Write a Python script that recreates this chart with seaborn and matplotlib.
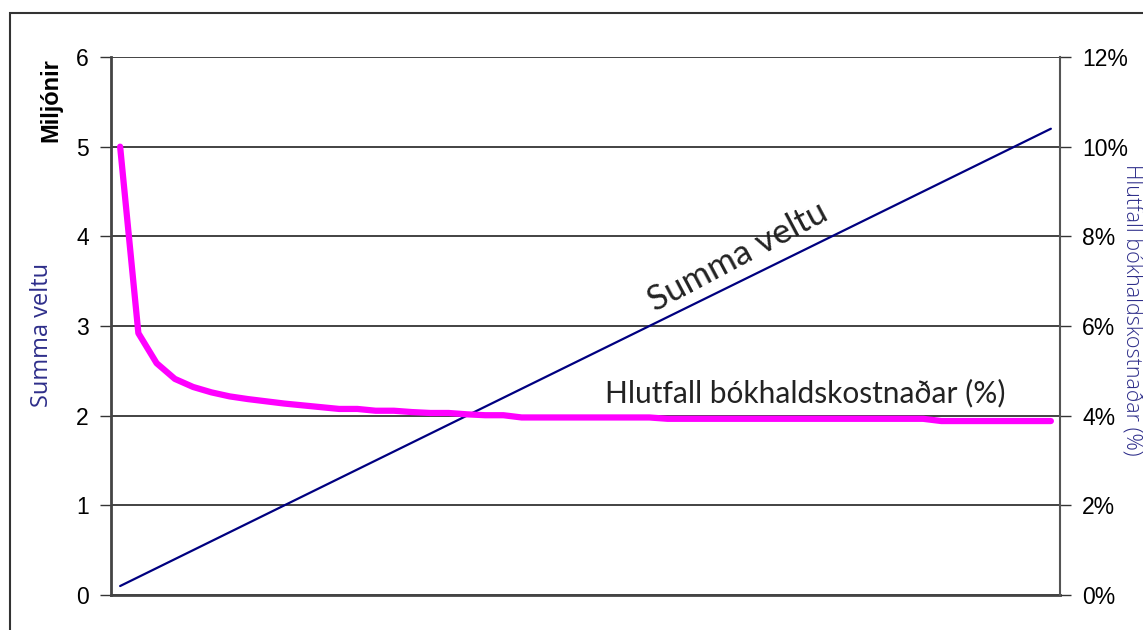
import numpy as np
import pandas as pd
import matplotlib
matplotlib.use('Agg')
import matplotlib.pyplot as plt
import seaborn as sns
from matplotlib.patches import Rectangle
from matplotlib.ticker import FuncFormatter

# Data: 52 steps
summa_veltu = [0.1, 0.2, 0.3, 0.4, 0.5, 0.6, 0.7, 0.8, 0.9, 1.0,
               1.1, 1.2, 1.3, 1.4, 1.5, 1.6, 1.7, 1.8, 1.9, 2.0,
               2.1, 2.2, 2.3, 2.4, 2.5, 2.6, 2.7, 2.8, 2.9, 3.0,
               3.1, 3.2, 3.3, 3.4, 3.5, 3.6, 3.7, 3.8, 3.9, 4.0,
               4.1, 4.2, 4.3, 4.4, 4.5, 4.6, 4.7, 4.8, 4.9, 5.0,
               5.1, 5.2]
hlutfall = [10.0, 5.84, 5.17, 4.82, 4.64, 4.52, 4.43, 4.37, 4.32, 4.27,
            4.23, 4.19, 4.15, 4.15, 4.11, 4.11, 4.08, 4.06, 4.06, 4.03,
            4.01, 4.01, 3.96, 3.96, 3.96, 3.96, 3.96, 3.96, 3.96, 3.96,
            3.93, 3.93, 3.93, 3.93, 3.93, 3.93, 3.93, 3.93, 3.93, 3.93,
            3.93, 3.93, 3.93, 3.93, 3.93, 3.88, 3.88, 3.88, 3.88, 3.88,
            3.88, 3.88]
left_ticks = [0, 1, 2, 3, 4, 5, 6]
right_ticks = [0, 2, 4, 6, 8, 10, 12]

df = pd.DataFrame({'step': range(len(summa_veltu)),
                   'veltu': summa_veltu,
                   'hlutfall': hlutfall})

sns.set_style('white')
plt.rcParams['font.family'] = ['Liberation Sans', 'DejaVu Sans']

fig = plt.figure(figsize=(11.43, 6.3), dpi=100)
ax = fig.add_axes([111 / 1143, 1 - 595 / 630, (1060 - 111) / 1143, (595 - 57) / 630])
ax2 = ax.twinx()

# outer frame of the chart object (cropped at right/bottom)
fig.patches.append(Rectangle((10 / 1143, -0.1), 1.2, 1 - 13 / 630 + 0.1,
                             transform=fig.transFigure, fill=False,
                             edgecolor='#333333', linewidth=1.5))

# grid lines
for t in left_ticks:
    ax.axhline(t, color='#222222', linewidth=1.2, zorder=0)

sns.lineplot(data=df, x='step', y='veltu', ax=ax, color='#000080', linewidth=1.6)
sns.lineplot(data=df, x='step', y='hlutfall', ax=ax2, color='#ff00ff', linewidth=4.5)

ax.set_xlim(-0.5, len(summa_veltu) - 0.5)
ax.set_ylim(0, 6)
ax2.set_ylim(0, 12)
ax.set_yticks(left_ticks)
ax2.set_yticks(right_ticks)
ax2.yaxis.set_major_formatter(FuncFormatter(lambda v, p: f'{int(v)}%'))
ax.set_xticks([])
ax.set_xlabel('')
ax2.set_xlabel('')
ax.set_ylabel('')
ax2.set_ylabel('')

for a in (ax, ax2):
    a.tick_params(axis='y', length=8, width=1, color='#333333',
                  labelsize=16.5, labelcolor='black', pad=8, direction='out')
    a.spines['top'].set_visible(False)
ax.spines['left'].set_color('#444444')
ax.spines['left'].set_linewidth(2)
ax.spines['bottom'].set_color('#444444')
ax.spines['bottom'].set_linewidth(2)
ax.spines['right'].set_visible(False)
ax2.spines['left'].set_visible(False)
ax2.spines['bottom'].set_visible(False)
ax2.spines['right'].set_color('#555555')
ax2.spines['right'].set_linewidth(1.5)
ax.tick_params(axis='y', left=True)
ax2.tick_params(axis='y', right=True)

# axis titles
fig.text(51 / 1143, 1 - 100 / 630, 'Miljónir', rotation=90, ha='center', va='center',
         fontsize=17, fontweight='bold', color='black')
fig.text(42 / 1143, 1 - 335 / 630, 'Summa veltu', rotation=90, ha='center', va='center',
         fontsize=17, color='#2e2e8a', family=['Open Sans', 'DejaVu Sans'])
fig.text(1132 / 1143, 1 - 310 / 630, 'Hlutfall bókhaldskostnaðar (%)', rotation=-90,
         ha='center', va='center', fontsize=15.5, color='#2e2e8a',
         family=['Open Sans', 'DejaVu Sans'], fontweight='light')

# in-chart labels
fig.text(738 / 1143, 1 - 257 / 630, 'Summa veltu', rotation=28, ha='center', va='center',
         fontsize=25, color='#222222', family=['Lato', 'DejaVu Sans'])
fig.text(805 / 1143, 1 - 393 / 630, 'Hlutfall bókhaldskostnaðar (%)', ha='center', va='center',
         fontsize=21.5, color='#222222', family=['Lato', 'DejaVu Sans'])

fig.savefig('out.png', dpi=100)
